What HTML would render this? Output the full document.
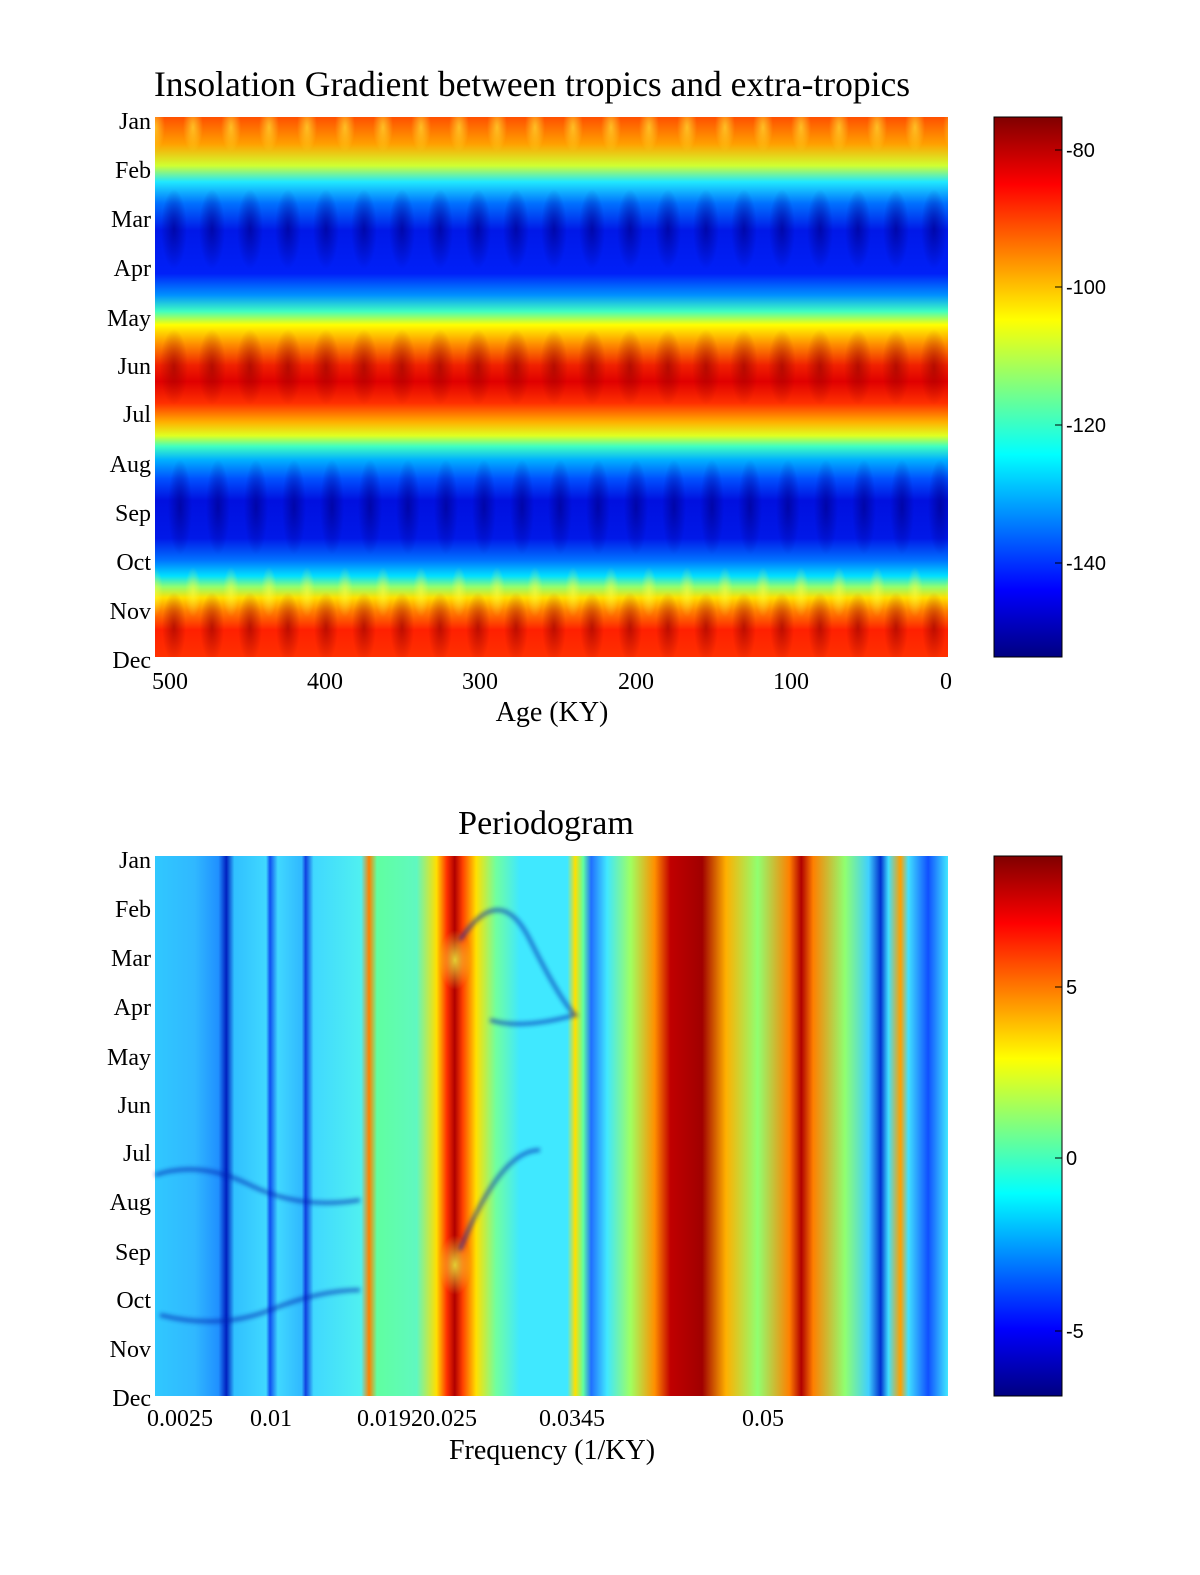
<!DOCTYPE html>
<html><head><meta charset="utf-8"><style>
body{margin:0;background:#fff;}
svg{display:block;}
text{font-family:"Liberation Serif",serif;fill:#000;}
</style></head><body>
<svg width="1200" height="1575" viewBox="0 0 1200 1575" xmlns="http://www.w3.org/2000/svg">
<defs>
<linearGradient id="topv" x1="0" y1="0" x2="0" y2="1">
<stop offset="0" stop-color="#ff5000"/>
<stop offset="0.05" stop-color="#ffa000"/>
<stop offset="0.09" stop-color="#d0ff30"/>
<stop offset="0.12" stop-color="#20e8ff"/>
<stop offset="0.16" stop-color="#0070ff"/>
<stop offset="0.21" stop-color="#0018e8"/>
<stop offset="0.29" stop-color="#0020f8"/>
<stop offset="0.33" stop-color="#0090ff"/>
<stop offset="0.36" stop-color="#40ffc0"/>
<stop offset="0.385" stop-color="#ffff00"/>
<stop offset="0.42" stop-color="#ff9000"/>
<stop offset="0.46" stop-color="#f02000"/>
<stop offset="0.49" stop-color="#e00000"/>
<stop offset="0.53" stop-color="#ff3000"/>
<stop offset="0.565" stop-color="#ffb000"/>
<stop offset="0.59" stop-color="#e0ff20"/>
<stop offset="0.61" stop-color="#40ffc0"/>
<stop offset="0.635" stop-color="#00b0ff"/>
<stop offset="0.67" stop-color="#0050ff"/>
<stop offset="0.71" stop-color="#0010e0"/>
<stop offset="0.78" stop-color="#0018e8"/>
<stop offset="0.82" stop-color="#0070ff"/>
<stop offset="0.85" stop-color="#00e0ff"/>
<stop offset="0.87" stop-color="#90ff70"/>
<stop offset="0.89" stop-color="#ffe000"/>
<stop offset="0.915" stop-color="#ff8000"/>
<stop offset="0.95" stop-color="#ff2000"/>
<stop offset="1" stop-color="#ff3000"/>
</linearGradient>
<radialGradient id="db"><stop offset="0" stop-color="#000090" stop-opacity="0.7"/><stop offset="1" stop-color="#000090" stop-opacity="0"/></radialGradient>
<radialGradient id="dr"><stop offset="0" stop-color="#900000" stop-opacity="0.6"/><stop offset="1" stop-color="#900000" stop-opacity="0"/></radialGradient>
<radialGradient id="ly"><stop offset="0" stop-color="#ffff40" stop-opacity="0.55"/><stop offset="1" stop-color="#ffff40" stop-opacity="0"/></radialGradient>
<pattern id="mod" x="155" y="117" width="38" height="540" patternUnits="userSpaceOnUse">
<ellipse cx="19" cy="112" rx="13" ry="40" fill="url(#db)"/>
<ellipse cx="19" cy="250" rx="14" ry="38" fill="url(#dr)"/>
<ellipse cx="25" cy="390" rx="12" ry="48" fill="url(#db)"/>
<ellipse cx="19" cy="510" rx="12" ry="35" fill="url(#dr)"/>
<ellipse cx="0" cy="10" rx="10" ry="25" fill="url(#ly)"/>
<ellipse cx="38" cy="10" rx="10" ry="25" fill="url(#ly)"/>
<ellipse cx="0" cy="475" rx="8" ry="25" fill="url(#ly)"/>
<ellipse cx="38" cy="475" rx="8" ry="25" fill="url(#ly)"/>
</pattern>
<linearGradient id="jet" x1="0" y1="1" x2="0" y2="0">
<stop offset="0" stop-color="#000080"/>
<stop offset="0.125" stop-color="#0000ff"/>
<stop offset="0.375" stop-color="#00ffff"/>
<stop offset="0.625" stop-color="#ffff00"/>
<stop offset="0.875" stop-color="#ff0000"/>
<stop offset="1" stop-color="#800000"/>
</linearGradient>
<linearGradient id="both" gradientUnits="userSpaceOnUse" x1="155" y1="0" x2="948" y2="0">
<stop offset="0" stop-color="#30c8ff"/>
<stop offset="0.05" stop-color="#30b8ff"/>
<stop offset="0.08" stop-color="#2090ff"/>
<stop offset="0.09" stop-color="#0020c0"/>
<stop offset="0.1" stop-color="#30c0ff"/>
<stop offset="0.14" stop-color="#40d8ff"/>
<stop offset="0.145" stop-color="#1050f0"/>
<stop offset="0.155" stop-color="#40d8ff"/>
<stop offset="0.185" stop-color="#30b8ff"/>
<stop offset="0.19" stop-color="#1040e0"/>
<stop offset="0.2" stop-color="#40d8ff"/>
<stop offset="0.26" stop-color="#50f0f0"/>
<stop offset="0.27" stop-color="#ff8000"/>
<stop offset="0.28" stop-color="#60ffa0"/>
<stop offset="0.33" stop-color="#60f8c0"/>
<stop offset="0.355" stop-color="#ffe000"/>
<stop offset="0.368" stop-color="#ff3000"/>
<stop offset="0.378" stop-color="#b00000"/>
<stop offset="0.388" stop-color="#ff4000"/>
<stop offset="0.405" stop-color="#ffe000"/>
<stop offset="0.43" stop-color="#70ffa0"/>
<stop offset="0.46" stop-color="#40e8ff"/>
<stop offset="0.52" stop-color="#40e8ff"/>
<stop offset="0.53" stop-color="#ffe000"/>
<stop offset="0.54" stop-color="#60ffa0"/>
<stop offset="0.55" stop-color="#2070ff"/>
<stop offset="0.57" stop-color="#40e8ff"/>
<stop offset="0.6" stop-color="#a0ff60"/>
<stop offset="0.63" stop-color="#ff9000"/>
<stop offset="0.65" stop-color="#c00000"/>
<stop offset="0.69" stop-color="#a00000"/>
<stop offset="0.72" stop-color="#ffb000"/>
<stop offset="0.76" stop-color="#90ff70"/>
<stop offset="0.8" stop-color="#ff8000"/>
<stop offset="0.815" stop-color="#b00000"/>
<stop offset="0.83" stop-color="#ff8000"/>
<stop offset="0.87" stop-color="#90ff70"/>
<stop offset="0.9" stop-color="#40d0ff"/>
<stop offset="0.915" stop-color="#0030d0"/>
<stop offset="0.925" stop-color="#40e0ff"/>
<stop offset="0.94" stop-color="#ffa000"/>
<stop offset="0.95" stop-color="#40e0ff"/>
<stop offset="0.975" stop-color="#1050ff"/>
<stop offset="1" stop-color="#40e8ff"/>
</linearGradient>
<radialGradient id="yp"><stop offset="0" stop-color="#f0ff40" stop-opacity="0.8"/><stop offset="1" stop-color="#f0ff40" stop-opacity="0"/></radialGradient>
<filter id="bl"><feGaussianBlur stdDeviation="2"/></filter>
</defs>

<text x="532" y="96" font-size="35.5" text-anchor="middle">Insolation Gradient between tropics and extra-tropics</text>
<rect x="155" y="117" width="793" height="540" fill="url(#topv)"/>
<rect x="155" y="117" width="793" height="540" fill="url(#mod)"/>
<g font-size="24" text-anchor="end">
<text x="151" y="129">Jan</text><text x="151" y="178">Feb</text><text x="151" y="227">Mar</text><text x="151" y="276">Apr</text><text x="151" y="326">May</text><text x="151" y="374">Jun</text><text x="151" y="422">Jul</text><text x="151" y="472">Aug</text><text x="151" y="521">Sep</text><text x="151" y="570">Oct</text><text x="151" y="619">Nov</text><text x="151" y="668">Dec</text>
</g>
<g font-size="24" text-anchor="middle">
<text x="170" y="689">500</text><text x="325" y="689">400</text><text x="480" y="689">300</text><text x="636" y="689">200</text><text x="791" y="689">100</text><text x="946" y="689">0</text>
<text x="552" y="721" font-size="28">Age (KY)</text>
</g>
<rect x="994" y="117" width="68" height="540" fill="url(#jet)" stroke="#000" stroke-width="1"/>
<g stroke="#000" stroke-width="1"><line x1="1055" y1="150" x2="1062" y2="150"/><line x1="1055" y1="287" x2="1062" y2="287"/><line x1="1055" y1="425" x2="1062" y2="425"/><line x1="1055" y1="563" x2="1062" y2="563"/></g>
<g font-size="20"><text x="1066" y="157" style="font-family:'Liberation Sans',sans-serif">-80</text><text x="1066" y="294" style="font-family:'Liberation Sans',sans-serif">-100</text><text x="1066" y="432" style="font-family:'Liberation Sans',sans-serif">-120</text><text x="1066" y="570" style="font-family:'Liberation Sans',sans-serif">-140</text></g>

<text x="546" y="834" font-size="34" text-anchor="middle">Periodogram</text>
<rect x="155" y="856" width="793" height="540" fill="url(#both)"/>
<ellipse cx="455" cy="960" rx="16" ry="30" fill="url(#yp)"/>
<ellipse cx="455" cy="1265" rx="16" ry="30" fill="url(#yp)"/>
<g fill="none" stroke="#0020b0" stroke-width="4" opacity="0.6" filter="url(#bl)">
<path d="M155 1175 Q200 1160 250 1185 T360 1200"/>
<path d="M160 1315 Q220 1330 270 1310 T360 1290"/>
<path d="M460 940 Q500 880 530 940 Q560 1000 575 1015 Q520 1030 490 1020"/>
<path d="M460 1250 Q500 1150 540 1150"/>
</g>
<g font-size="24" text-anchor="end">
<text x="151" y="868">Jan</text><text x="151" y="917">Feb</text><text x="151" y="966">Mar</text><text x="151" y="1015">Apr</text><text x="151" y="1065">May</text><text x="151" y="1113">Jun</text><text x="151" y="1161">Jul</text><text x="151" y="1210">Aug</text><text x="151" y="1260">Sep</text><text x="151" y="1308">Oct</text><text x="151" y="1357">Nov</text><text x="151" y="1406">Dec</text>
</g>
<g font-size="24" text-anchor="middle">
<text x="180" y="1426">0.0025</text><text x="271" y="1426">0.01</text><text x="417" y="1426">0.01920.025</text><text x="572" y="1426">0.0345</text><text x="763" y="1426">0.05</text>
<text x="552" y="1459" font-size="28">Frequency (1/KY)</text>
</g>
<rect x="994" y="856" width="68" height="540" fill="url(#jet)" stroke="#000" stroke-width="1"/>
<g stroke="#000" stroke-width="1"><line x1="1055" y1="987" x2="1062" y2="987"/><line x1="1055" y1="1158" x2="1062" y2="1158"/><line x1="1055" y1="1331" x2="1062" y2="1331"/></g>
<g font-size="20"><text x="1066" y="994" style="font-family:'Liberation Sans',sans-serif">5</text><text x="1066" y="1165" style="font-family:'Liberation Sans',sans-serif">0</text><text x="1066" y="1338" style="font-family:'Liberation Sans',sans-serif">-5</text></g>
</svg>
</body></html>
